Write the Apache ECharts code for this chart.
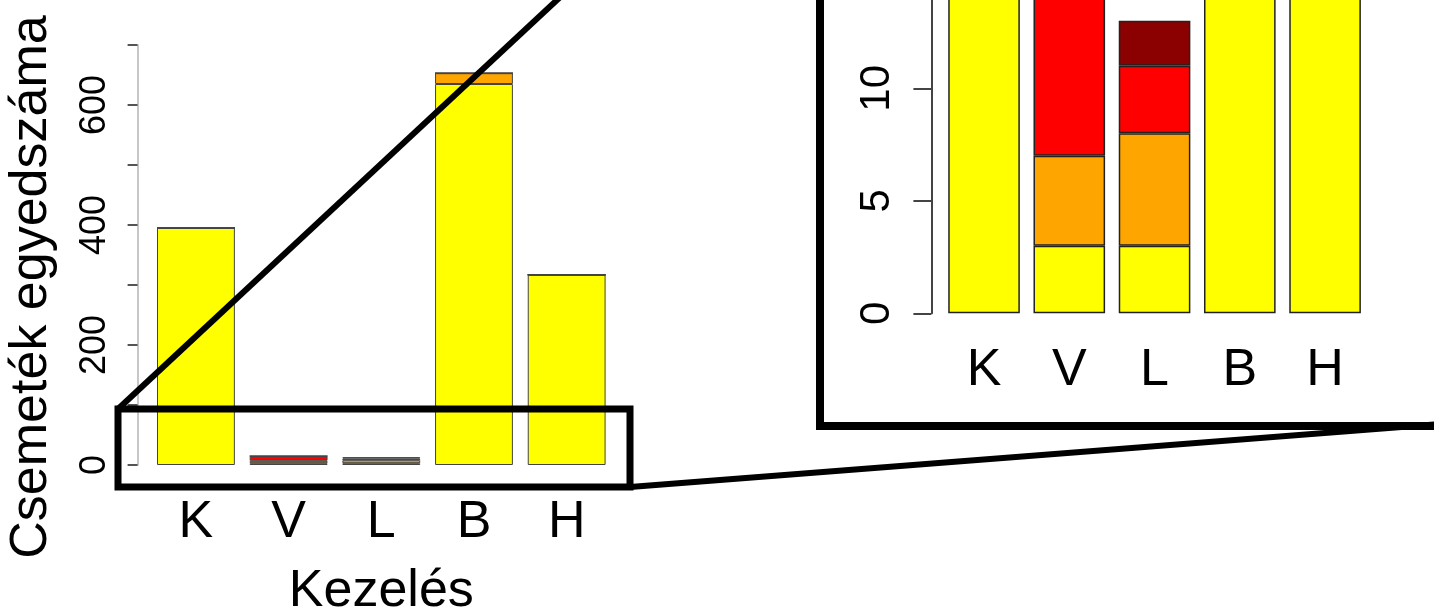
<!DOCTYPE html>
<html>
<head>
<meta charset="utf-8">
<script src="https://cdn.jsdelivr.net/npm/echarts@6/dist/echarts.min.js"></script>
<style>
  html, body { margin: 0; padding: 0; background: #ffffff; }
  #chart { width: 1434px; height: 612px; }
</style>
</head>
<body>
<div id="chart"></div>
<script>
// Seedling counts per treatment, stacked by condition class
const categories = ['K', 'V', 'L', 'B', 'H'];
const yellowCounts  = [395, 3, 3, 635, 317];
const orangeCounts  = [0, 4, 5, 18, 0];
const redCounts     = [0, 8, 3, 0, 0];
const darkredCounts = [0, 0, 2, 0, 0];

// Tick labels that are printed (other ticks stay unlabelled)
const mainTickLabels  = ['0', '200', '400', '600'];
const insetTickLabels = ['0', '5', '10'];

const FONT = '"Liberation Sans", Arial, Helvetica, sans-serif';

const layers = [
  { name: 'sárga',      data: yellowCounts,  color: '#ffff00' },
  { name: 'narancs',    data: orangeCounts,  color: '#ffa500' },
  { name: 'piros',      data: redCounts,     color: '#ff0000' },
  { name: 'sötétpiros', data: darkredCounts, color: '#8b0000' }
];

function stackedBars(axisIndex, stackId, borderColor, borderWidth) {
  return layers.map(l => ({
    type: 'bar',
    name: l.name,
    stack: stackId,
    xAxisIndex: axisIndex,
    yAxisIndex: axisIndex,
    data: l.data,
    barCategoryGap: '16%',
    clip: true,
    silent: true,
    itemStyle: { color: l.color, borderColor: borderColor, borderWidth: borderWidth }
  }));
}

function labelFrom(list) {
  return v => (list.indexOf(String(v)) >= 0 ? String(v) : '');
}

const chart = echarts.init(document.getElementById('chart'), null, { renderer: 'canvas' });

chart.setOption({
  animation: false,
  backgroundColor: '#ffffff',
  textStyle: { fontFamily: FONT },
  grid: [
    // full-range panel
    { left: 149.6, width: 463.4, top: 45, bottom: 147, containLabel: false, outerBoundsMode: 'none' },
    // enlarged low-count panel
    { left: 941.4, width: 426.3, top: -24.2, bottom: 298.7, containLabel: false, outerBoundsMode: 'none' }
  ],
  xAxis: [
    {
      type: 'category', gridIndex: 0, data: categories,
      axisLine: { show: false }, axisTick: { show: false },
      axisLabel: { interval: 0, margin: 32, fontSize: 52, lineHeight: 52, color: '#000', fontFamily: FONT },
      name: 'Kezelés', nameLocation: 'middle', nameGap: 101,
      nameTextStyle: { fontSize: 52, lineHeight: 52, color: '#000', fontFamily: FONT }
    },
    {
      type: 'category', gridIndex: 1, data: categories,
      axisLine: { show: false }, axisTick: { show: false },
      axisLabel: { interval: 0, margin: 31, fontSize: 52, lineHeight: 52, color: '#000', fontFamily: FONT }
    }
  ],
  yAxis: [
    {
      type: 'value', gridIndex: 0, min: 0, max: 700, interval: 100, offset: 12,
      splitLine: { show: false },
      axisLine: { show: true, lineStyle: { color: '#b4b4b4', width: 1.5 } },
      axisTick: { show: true, length: 10, lineStyle: { color: '#555', width: 2 } },
      axisLabel: {
        rotate: 90, margin: 25, fontSize: 36, lineHeight: 36, color: '#000', fontFamily: FONT,
        formatter: labelFrom(mainTickLabels)
      },
      name: 'Csemeték egyedszáma', nameLocation: 'middle', nameGap: 80, nameRotate: 90,
      nameTextStyle: { fontSize: 52, lineHeight: 52, color: '#000', fontFamily: FONT, padding: [0, 64, 0, 0] }
    },
    {
      type: 'value', gridIndex: 1, min: 0, max: 15, interval: 5, offset: 10,
      splitLine: { show: false },
      axisLine: { show: true, lineStyle: { color: '#444', width: 2 } },
      axisTick: { show: true, length: 18, lineStyle: { color: '#444', width: 2 } },
      axisLabel: {
        rotate: 90, margin: 33, fontSize: 42, lineHeight: 42, color: '#000', fontFamily: FONT,
        formatter: labelFrom(insetTickLabels)
      }
    }
  ],
  series: [].concat(
    stackedBars(0, 'main', '#444', 1),
    stackedBars(1, 'inset', '#222', 1.5)
  ),
  graphic: [
    // highlight box around the low-count region
    { type: 'rect', z: 100, silent: true,
      shape: { x: 118, y: 409, width: 512, height: 78 },
      style: { fill: 'none', stroke: '#000', lineWidth: 7 } },
    // connectors to the enlarged panel
    { type: 'line', z: 100, silent: true,
      shape: { x1: 118, y1: 409, x2: 820, y2: -245 },
      style: { stroke: '#000', lineWidth: 6 } },
    { type: 'line', z: 100, silent: true,
      shape: { x1: 630, y1: 487, x2: 1440, y2: 424 },
      style: { stroke: '#000', lineWidth: 6 } },
    // frame of the enlarged panel
    { type: 'rect', z: 100, silent: true,
      shape: { x: 820, y: -245, width: 700, height: 671 },
      style: { fill: 'none', stroke: '#000', lineWidth: 8 } }
  ]
});
</script>
</body>
</html>
